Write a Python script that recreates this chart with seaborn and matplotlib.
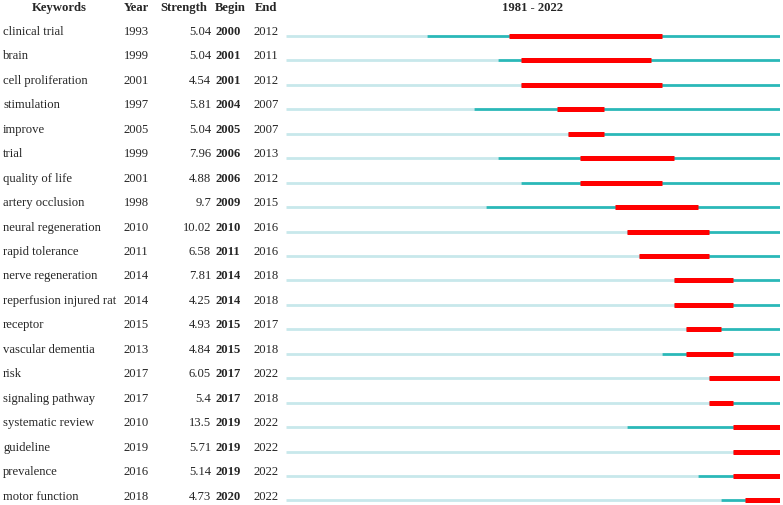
import matplotlib
matplotlib.use("Agg")
import matplotlib.pyplot as plt
import seaborn as sns

sns.set_theme(style="white")
plt.rcParams['font.family'] = ['Liberation Serif', 'DejaVu Serif']

keywords = ["clinical trial", "brain", "cell proliferation", "stimulation", "improve",
            "trial", "quality of life", "artery occlusion", "neural regeneration",
            "rapid tolerance", "nerve regeneration", "reperfusion injured rat",
            "receptor", "vascular dementia", "risk", "signaling pathway",
            "systematic review", "guideline", "prevalence", "motor function"]
years = [1993, 1999, 2001, 1997, 2005, 1999, 2001, 1998, 2010, 2011,
         2014, 2014, 2015, 2013, 2017, 2017, 2010, 2019, 2016, 2018]
strengths = ["5.04", "5.04", "4.54", "5.81", "5.04", "7.96", "4.88", "9.7", "10.02", "6.58",
             "7.81", "4.25", "4.93", "4.84", "6.05", "5.4", "13.5", "5.71", "5.14", "4.73"]
begins = [2000, 2001, 2001, 2004, 2005, 2006, 2006, 2009, 2010, 2011,
          2014, 2014, 2015, 2015, 2017, 2017, 2019, 2019, 2019, 2020]
ends = [2012, 2011, 2012, 2007, 2007, 2013, 2012, 2015, 2016, 2016,
        2018, 2018, 2017, 2018, 2022, 2018, 2022, 2022, 2022, 2022]
start_year, end_year = 1981, 2022

light = "#c8e8eb"
teal = "#2ab8b8"
red = "#ff0000"
fs = 9.1

fig = plt.figure(figsize=(7.83, 5.05), dpi=100)
# row units: row i text centred at 32 + 24.45*i px
ylim = ((505 - 32) / 24.45, -32 / 24.45)

tab = fig.add_axes([0, 0, 1, 1])
tab.set_xlim(0, 783)
tab.set_ylim(*ylim)
tab.axis("off")

hy = -1.0
tab.text(59, hy, "Keywords", ha="center", va="center", fontsize=fs, fontweight="bold")
tab.text(124, hy, "Year", ha="left", va="center", fontsize=fs, fontweight="bold")
tab.text(207, hy, "Strength", ha="right", va="center", fontsize=fs, fontweight="bold")
tab.text(215, hy, "Begin", ha="left", va="center", fontsize=fs, fontweight="bold")
tab.text(255, hy, "End", ha="left", va="center", fontsize=fs, fontweight="bold")
tab.text(533, hy, f"{start_year} - {end_year}", ha="center", va="center",
         fontsize=fs, fontweight="bold")

for i, kw in enumerate(keywords):
    tab.text(3, i, kw, ha="left", va="center", fontsize=fs)
    tab.text(124, i, str(years[i]), ha="left", va="center", fontsize=fs)
    tab.text(211, i, strengths[i], ha="right", va="center", fontsize=fs)
    tab.text(215, i, str(begins[i]), ha="left", va="center", fontsize=fs, fontweight="bold")
    tab.text(253, i, str(ends[i]), ha="left", va="center", fontsize=fs)

tl = fig.add_axes([286 / 783, 0, (780 - 286) / 783, 1])
tl.set_xlim(start_year, end_year + 1)
tl.set_ylim(*ylim)
tl.axis("off")

for i in range(len(keywords)):
    y = i + 0.16
    tl.hlines(y, start_year, years[i], color=light, lw=2.0)
    tl.hlines(y, years[i], end_year + 1, color=teal, lw=2.0)
    tl.hlines(y, begins[i], ends[i] + 1, color=red, lw=3.6)

fig.savefig("out.png", dpi=100)
